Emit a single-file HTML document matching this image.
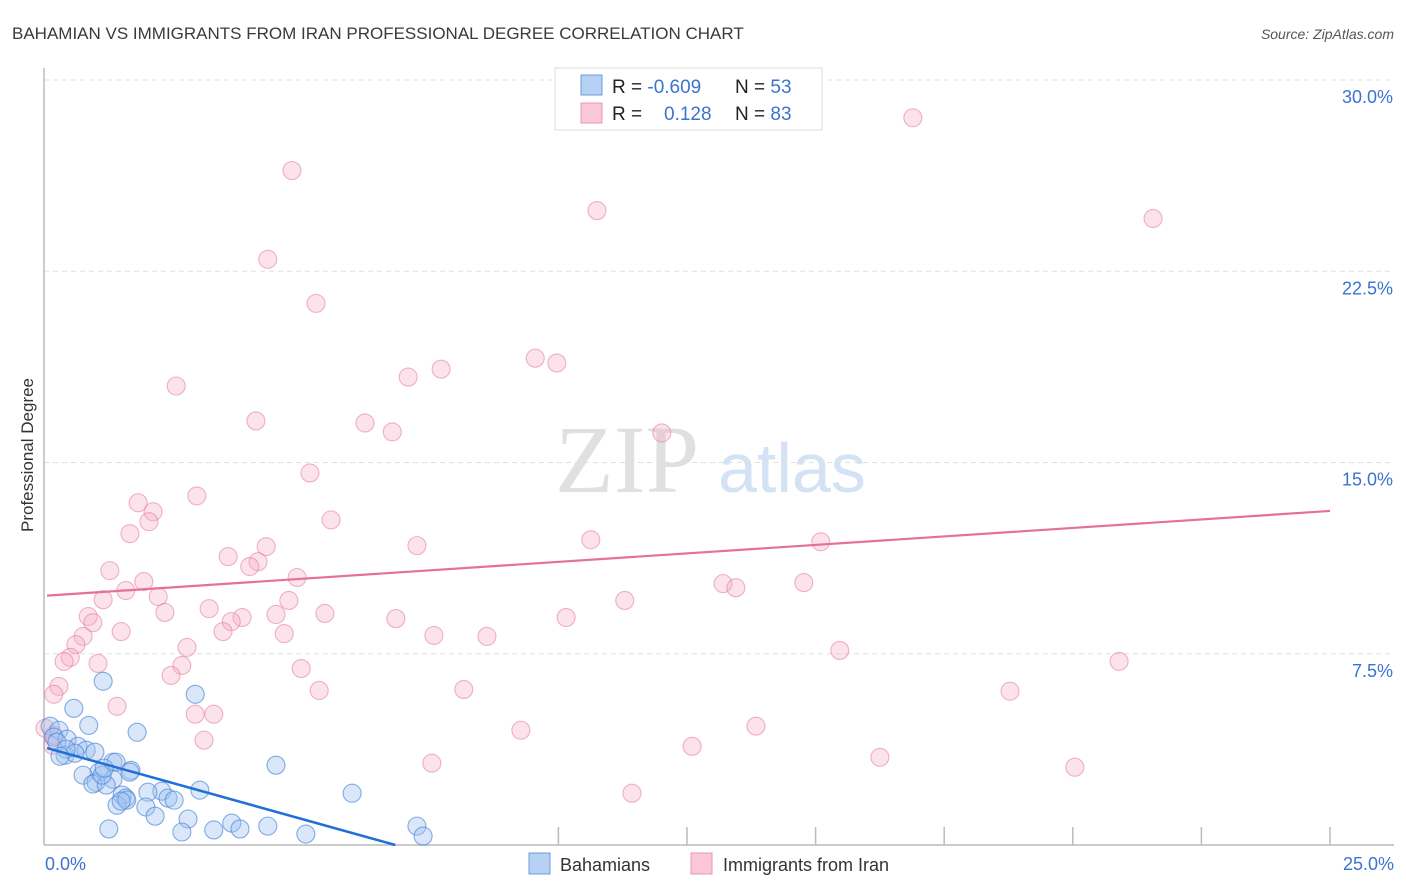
<!DOCTYPE html>
<html><head><meta charset="utf-8"><style>
body{margin:0;background:#fff;font-family:"Liberation Sans",sans-serif;}
svg{display:block}
</style></head><body>
<svg id="chart" width="1406" height="892" viewBox="0 0 1406 892">
<text x="12" y="39" font-size="17" fill="#3a3a3a">BAHAMIAN VS IMMIGRANTS FROM IRAN PROFESSIONAL DEGREE CORRELATION CHART</text>
<text x="1394" y="39" font-size="14" fill="#555" font-style="italic" text-anchor="end">Source: ZipAtlas.com</text>
<text x="555" y="492" font-size="96" fill="#e0e0e0" font-family="Liberation Serif,serif">ZIP</text>
<text x="718" y="492" font-size="70" fill="#d3e2f5">atlas</text>
<g id="grid"></g>
<g id="axes"></g>
<g id="pts"></g>
<g id="lines"></g>
<text transform="translate(33,455) rotate(-90)" font-size="17" fill="#333" text-anchor="middle">Professional Degree</text>
<text x="45" y="870" font-size="18" fill="#3b73d1">0.0%</text>
<text x="1394" y="870" font-size="18" fill="#3b73d1" text-anchor="end">25.0%</text>
<g>
<rect x="555" y="68" width="267" height="62" fill="#fff" stroke="#ddd"/>
<rect x="581" y="75" width="21" height="20" fill="#b7d1f3" stroke="#6d9be0"/>
<rect x="581" y="103" width="21" height="20" fill="#f9c7d6" stroke="#eb97b0"/>
<text x="612" y="93" font-size="19" fill="#222">R = <tspan fill="#3b73d1">-0.609</tspan><tspan x="735">N = </tspan><tspan fill="#3b73d1">53</tspan></text>
<text x="612" y="120" font-size="19" fill="#222">R = <tspan x="664" fill="#3b73d1">0.128</tspan><tspan x="735">N = </tspan><tspan fill="#3b73d1">83</tspan></text>
</g>
<g>
<rect x="529" y="853" width="21" height="21" fill="#b7d1f3" stroke="#6d9be0"/>
<text x="560" y="871" font-size="18" fill="#333">Bahamians</text>
<rect x="691" y="853" width="21" height="21" fill="#f9c7d6" stroke="#eb97b0"/>
<text x="723" y="871" font-size="18" fill="#333">Immigrants from Iran</text>
</g>
</svg>
<script>
const yTicks=[7.5,15,22.5,30];
const xTicks=[10,12.5,15,17.5,20,22.5,25];
const blueX=[1.15,2.94,0.58,0.87,0.12,0.29,1.81,0.19,0.45,0.25,0.66,0.41,0.82,0.99,1.34,0.60,4.51,1.40,1.69,1.67,1.07,0.76,1.34,1.01,0.95,1.21,3.03,2.29,1.52,5.99,2.02,2.41,2.53,1.59,1.98,1.42,2.80,2.16,3.65,4.35,7.25,3.81,1.26,3.30,2.68,5.09,7.37,1.61,1.50,1.13,0.43,0.31,1.17];
const blueY=[6.42,5.91,5.36,4.69,4.66,4.50,4.42,4.23,4.15,4.03,3.87,3.52,3.72,3.64,3.25,3.60,3.13,3.25,2.93,2.86,2.86,2.74,2.58,2.46,2.39,2.35,2.15,2.11,1.96,2.03,2.07,1.84,1.76,1.84,1.49,1.56,1.02,1.13,0.86,0.74,0.74,0.63,0.63,0.59,0.51,0.43,0.35,1.76,1.72,2.74,3.76,3.48,3.01];
const pinkX=[16.89,4.82,10.75,21.56,4.35,5.29,9.55,9.97,7.72,7.08,2.57,4.12,6.24,6.77,12.01,5.17,2.97,1.83,2.12,5.58,2.04,1.67,10.63,7.25,15.10,3.58,4.32,4.16,4.00,1.28,1.94,4.92,13.20,13.45,14.77,1.59,2.22,1.15,4.76,11.29,3.21,2.35,4.51,5.46,0.86,3.85,3.64,10.15,6.84,0.95,1.50,3.48,7.58,8.61,0.76,4.67,0.62,2.78,15.47,20.90,0.51,1.05,0.39,2.68,5.00,2.47,5.35,8.16,18.78,0.29,0.19,1.42,2.94,3.30,9.27,13.84,0.02,3.11,12.60,16.25,7.54,20.04,11.43,0.17,0.19];
const pinkY=[28.52,26.45,24.88,24.57,22.97,21.24,19.09,18.90,18.66,18.35,18.00,16.63,16.55,16.20,16.16,14.59,13.69,13.42,13.07,12.75,12.68,12.21,11.97,11.74,11.89,11.31,11.70,11.11,10.92,10.76,10.33,10.49,10.25,10.09,10.29,9.98,9.74,9.62,9.59,9.59,9.27,9.12,9.04,9.08,8.96,8.92,8.76,8.92,8.88,8.72,8.37,8.37,8.22,8.18,8.18,8.29,7.86,7.75,7.63,7.20,7.36,7.12,7.20,7.04,6.92,6.65,6.06,6.10,6.03,6.22,5.91,5.44,5.13,5.13,4.50,4.66,4.58,4.11,3.87,3.44,3.21,3.05,2.03,3.91,4.30];
const blueTrendX=[0.06,6.83];
const blueTrendY=[3.80,0];
const pinkTrendX=[0.06,25];
const pinkTrendY=[9.78,13.10];
const NS='http://www.w3.org/2000/svg';
const X0=44,X1=1330,YB=845,YT=80;
const sx=v=>X0+v/25*(X1-X0);
const sy=v=>YB-v/30*(YB-YT);
function mk(t,a,p){const e=document.createElementNS(NS,t);for(const k in a)e.setAttribute(k,a[k]);p.appendChild(e);return e;}
const grid=document.getElementById('grid'),axes=document.getElementById('axes'),pts=document.getElementById('pts'),lines=document.getElementById('lines');
yTicks.forEach(v=>{
 const l=mk('line',{x1:X0,x2:1394,y1:sy(v),y2:sy(v),stroke:'#e0e0e0','stroke-dasharray':'5,4'},grid);
 
 
 const t=mk('text',{x:1393,y:sy(v)+23,'font-size':18,fill:'#3b73d1','text-anchor':'end'},grid);
 t.textContent=v.toFixed(1)+'%';
 
 
});
const ya=mk('line',{x1:X0,x2:X0,y1:68,y2:YB,stroke:'#bbb','stroke-width':1.5},axes);


const xa=mk('line',{x1:X0,x2:1394,y1:YB,y2:YB,stroke:'#bbb','stroke-width':1.5},axes);


xTicks.forEach(v=>{
 const l=mk('line',{x1:sx(v),x2:sx(v),y1:YB,y2:YB-18,stroke:'#bbb','stroke-width':1.5},axes);
 
 
});
function dots(xs,ys,fill,stroke,name){
 xs.forEach((v,i)=>{
  const c=mk('circle',{cx:sx(v),cy:sy(ys[i]),r:9,fill:fill,stroke:stroke,'stroke-width':1.1},pts);
  
  
 });
}
dots(pinkX,pinkY,'rgba(246,172,197,0.35)','rgba(226,120,152,0.55)','iran-point');
dots(blueX,blueY,'rgba(160,196,240,0.4)','rgba(70,130,215,0.65)','bahamian-point');
const bl=mk('line',{x1:sx(blueTrendX[0]),y1:sy(blueTrendY[0]),x2:sx(blueTrendX[1]),y2:sy(blueTrendY[1]),stroke:'#1f6fd6','stroke-width':2.5},lines);


const pl=mk('line',{x1:sx(pinkTrendX[0]),y1:sy(pinkTrendY[0]),x2:sx(pinkTrendX[1]),y2:sy(pinkTrendY[1]),stroke:'#e4719a','stroke-width':2.2},lines);


</script>
</body></html>
